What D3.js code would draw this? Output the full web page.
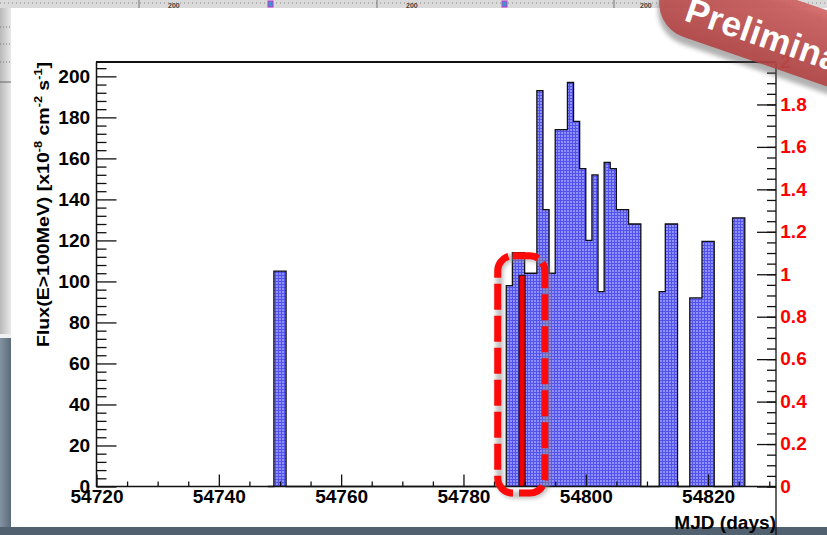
<!DOCTYPE html>
<html>
<head>
<meta charset="utf-8">
<script src="https://cdn.jsdelivr.net/npm/d3@7"></script>
<style>
  body { margin: 0; background: #fff; }
  svg { display: block; }
  text { font-family: "Liberation Sans", Arial, sans-serif; font-weight: bold; }
</style>
</head>
<body>
<svg width="827" height="535"></svg>
<script>
// daily flux bins (MJD, flux in 1e-8 cm^-2 s^-1)
const days = [54749, 54750,
  54787, 54788, 54789, 54790, 54791, 54792, 54793, 54794, 54795, 54796, 54797, 54798,
  54799, 54800, 54801, 54802, 54803, 54804, 54805, 54806, 54807, 54808,
  54812, 54813, 54814, 54817, 54818, 54819, 54820, 54824, 54825]
const flux = [105, 105,
  98, 114, 114, 104, 104, 193, 135, 104, 174, 174, 197, 178,
  155, 120, 152, 95, 158, 155, 135, 135, 128, 128,
  95, 128, 128, 92, 92, 119.5, 119.5, 131, 131]

// highlighted bin
const redDays = [54789]
const redFlux = [103]

// dashed box around the highlighted period (MJD range, flux range)
const boxDays = [54785.6, 54793.3]
const boxFlux = [-3.2, 112.5]

const xTicks = [54720, 54740, 54760, 54780, 54800, 54820]
const yTicks = [0, 20, 40, 60, 80, 100, 120, 140, 160, 180, 200]
const rightTicks = [0, 0.2, 0.4, 0.6, 0.8, 1, 1.2, 1.4, 1.6, 1.8, 2]

const svg = d3.select("svg")
const defs = svg.append("defs")

var x = d3.scaleLinear().domain([54720, 54831.1]).range([96.5, 776])
var y = d3.scaleLinear().domain([0, 207]).range([486.5, 62])
var yR = d3.scaleLinear().domain([0, 2]).range([486.5, 62])

// fill pattern of the histogram
var pat = defs.append("pattern").attr("id", "dots")
  .attr("patternUnits", "userSpaceOnUse").attr("width", 3).attr("height", 3)
pat.append("rect").attr("width", 3).attr("height", 3).attr("fill", "#5252ec")
pat.append("rect").attr("width", 2).attr("height", 2).attr("fill", "#9090ff")

var lg = defs.append("linearGradient").attr("id", "leftGray")
lg.append("stop").attr("offset", 0).attr("stop-color", "#b9b9b9")
lg.append("stop").attr("offset", 1).attr("stop-color", "#e9e9e9")
var sg = defs.append("linearGradient").attr("id", "slate")
sg.append("stop").attr("offset", 0).attr("stop-color", "#8493a1")
sg.append("stop").attr("offset", 1).attr("stop-color", "#5b6b7a")
var rg = defs.append("linearGradient").attr("id", "ribbon").attr("x1", 0).attr("y1", 0).attr("x2", 0).attr("y2", 1)
rg.append("stop").attr("offset", 0).attr("stop-color", "#d06261")
rg.append("stop").attr("offset", 1).attr("stop-color", "#b24443")
defs.append("filter").attr("id", "blur").attr("x", -0.2).attr("y", -0.2).attr("width", 1.4).attr("height", 1.4)
  .append("feGaussianBlur").attr("stdDeviation", 2)

// screenshot surroundings
var bg = svg.append("g")
bg.append("rect").attr("width", 827).attr("height", 8).attr("fill", "#dadada")
bg.append("line").attr("x1", 0).attr("x2", 827).attr("y1", 3).attr("y2", 3)
  .attr("stroke", "#888").attr("stroke-dasharray", "1,3")
bg.selectAll("line.sep").data([139, 377, 614]).enter().append("line")
  .attr("x1", d => d).attr("x2", d => d).attr("y1", 0).attr("y2", 8)
  .attr("stroke", "#777")
bg.selectAll("text.t200").data([168, 406, 640]).enter().append("text")
  .attr("x", d => d).attr("y", 8).attr("font-size", 7).attr("fill", "#444").text("200")
bg.selectAll("rect.mk").data([268, 502]).enter().append("rect")
  .attr("x", d => d).attr("y", 1).attr("width", 5).attr("height", 6)
  .attr("fill", "#3399cc").attr("stroke", "#cc33cc")
bg.append("rect").attr("y", 8).attr("width", 11).attr("height", 326).attr("fill", "url(#leftGray)")
bg.selectAll("line.dot").data([27, 44, 62]).enter().append("line")
  .attr("x1", 0).attr("x2", 11).attr("y1", d => d).attr("y2", d => d)
  .attr("stroke", "#777").attr("stroke-dasharray", "1,2")
bg.append("line").attr("x1", 0).attr("x2", 11).attr("y1", 82).attr("y2", 82).attr("stroke", "#666")
bg.append("rect").attr("y", 334).attr("width", 11).attr("height", 4).attr("fill", "#eef0f2")
bg.append("rect").attr("y", 338).attr("width", 11).attr("height", 197).attr("fill", "url(#slate)")
bg.append("rect").attr("y", 527).attr("width", 827).attr("height", 8).attr("fill", "#51616f")

// histogram bins
var plot = svg.append("g")
plot.selectAll("rect.bin")
  .data(days.map((d, i) => ({ day: d, v: flux[i] })))
  .enter()
  .append("rect")
  .attr("class", "bin")
  .attr("x", d => x(d.day))
  .attr("width", d => x(d.day + 1) - x(d.day))
  .attr("y", d => y(d.v))
  .attr("height", d => y(0) - y(d.v))
  .attr("fill", "url(#dots)")
  .attr("shape-rendering", "crispEdges")

var byDay = new Map(days.map((d, i) => [d, flux[i]]))
var steps = d3.range(d3.min(days) - 1, d3.max(days) + 2).map(d => [d, byDay.get(d) || 0])
plot.append("path")
  .attr("d", d3.line().x(d => x(d[0])).y(d => y(d[1])).curve(d3.curveStepAfter)(steps))
  .attr("fill", "none").attr("stroke", "#111").attr("stroke-width", 1.3)

plot.selectAll("rect.red")
  .data(redDays.map((d, i) => ({ day: d, v: redFlux[i] })))
  .enter()
  .append("rect")
  .attr("x", d => x(d.day) + 0.5)
  .attr("width", d => x(d.day + 1) - x(d.day))
  .attr("y", d => y(d.v))
  .attr("height", d => y(0) - y(d.v))
  .attr("fill", "#f00000").attr("stroke", "#111").attr("stroke-width", 1)

// axes
function styleAxis(sel, color) {
  sel.select(".domain").remove()
  sel.selectAll("line").attr("stroke", "#111").attr("stroke-width", 1.3)
  sel.selectAll("text").attr("font-size", 18).attr("fill", color)
    .attr("font-family", "Liberation Sans, Arial, sans-serif").attr("font-weight", "bold")
    .attr("transform", "scale(1.06,1)")
}

svg.append("g").attr("transform", "translate(96.5,0)")
  .call(d3.axisLeft(y).tickValues(d3.range(0, 207, 4).filter(v => v % 20)).tickSize(-10).tickFormat(""))
  .call(styleAxis, "#000")
svg.append("g").attr("transform", "translate(96.5,0)")
  .call(d3.axisLeft(y).tickValues(yTicks).tickSize(-20).tickPadding(6))
  .call(styleAxis, "#000")

svg.append("g").attr("transform", "translate(0,486.5)")
  .call(d3.axisBottom(x).tickValues(d3.range(54725, 54831, 5).filter(v => v % 20)).tickSize(-5).tickFormat(""))
  .call(styleAxis, "#000")
svg.append("g").attr("transform", "translate(0,486.5)")
  .call(d3.axisBottom(x).tickValues(xTicks).tickSize(-12).tickPadding(4).tickFormat(d3.format("d")))
  .call(styleAxis, "#000")

svg.append("g").attr("transform", "translate(776,0)")
  .call(d3.axisRight(yR).tickValues(d3.range(0, 41).map(i => i / 20)).tickSize(-9).tickFormat(""))
  .call(styleAxis, "#f00")
svg.append("g").attr("transform", "translate(776,0)")
  .call(d3.axisRight(yR).tickValues(rightTicks).tickSize(-19).tickPadding(4).tickFormat(d3.format("~g")))
  .call(styleAxis, "#f00")

// frame
svg.append("line").attr("x1", 96.5).attr("x2", 96.5).attr("y1", 62).attr("y2", 487)
  .attr("stroke", "#111").attr("stroke-width", 1.5)
svg.append("line").attr("x1", 96).attr("x2", 776).attr("y1", 62).attr("y2", 62)
  .attr("stroke", "#111").attr("stroke-width", 2)
svg.append("line").attr("x1", 96).attr("x2", 776).attr("y1", 486.5).attr("y2", 486.5)
  .attr("stroke", "#111").attr("stroke-width", 1.5)
svg.append("line").attr("x1", 776).attr("x2", 776).attr("y1", 62).attr("y2", 535)
  .attr("stroke", "#111").attr("stroke-width", 1.3)

// titles
svg.append("text")
  .attr("transform", "translate(776,529) scale(1.06,1)")
  .attr("text-anchor", "end").attr("font-size", 18)
  .text("MJD (days)")

var yt = svg.append("text")
  .attr("transform", "translate(49,347) rotate(-90) scale(1.15,1)")
  .attr("font-size", 17)
yt.append("tspan").text("Flux(E>100MeV) [x10")
yt.append("tspan").attr("dy", -7).attr("font-size", 11).text("-8")
yt.append("tspan").attr("dy", 7).text(" cm")
yt.append("tspan").attr("dy", -7).attr("font-size", 11).text("-2")
yt.append("tspan").attr("dy", 7).text(" s")
yt.append("tspan").attr("dy", -7).attr("font-size", 11).text("-1")
yt.append("tspan").attr("dy", 7).text("]")

// dashed highlight box
var bx = x(boxDays[0]), bw = x(boxDays[1]) - x(boxDays[0])
var by = y(boxFlux[1]), bh = y(boxFlux[0]) - y(boxFlux[1])
svg.append("rect")
  .attr("x", bx + 2).attr("y", by + 2).attr("width", bw).attr("height", bh).attr("rx", 15)
  .attr("fill", "none").attr("stroke", "#8a8a8a").attr("stroke-width", 7)
  .attr("opacity", 0.55).attr("filter", "url(#blur)")
svg.append("rect")
  .attr("x", bx).attr("y", by).attr("width", bw).attr("height", bh).attr("rx", 15)
  .attr("fill", "none").attr("stroke", "#ff0a0a").attr("stroke-width", 7)
  .attr("stroke-dasharray", "26,6")

// "Preliminary" ribbon
var rib = svg.append("g").attr("transform", "translate(683,20) rotate(19)")
rib.append("rect")
  .attr("x", -30).attr("y", -54).attr("width", 320).attr("height", 72).attr("rx", 36)
  .attr("fill", "#555").attr("opacity", 0.45).attr("transform", "translate(1,5)")
  .attr("filter", "url(#blur)")
rib.append("rect")
  .attr("x", -30).attr("y", -56).attr("width", 320).attr("height", 72).attr("rx", 36)
  .attr("fill", "url(#ribbon)").attr("fill-opacity", 0.9)
rib.append("text")
  .attr("x", 0).attr("y", 0)
  .attr("font-family", "Open Sans, sans-serif").attr("font-size", 35)
  .attr("letter-spacing", 0.5)
  .attr("fill", "#fff")
  .text("Preliminary")
</script>
</body>
</html>
